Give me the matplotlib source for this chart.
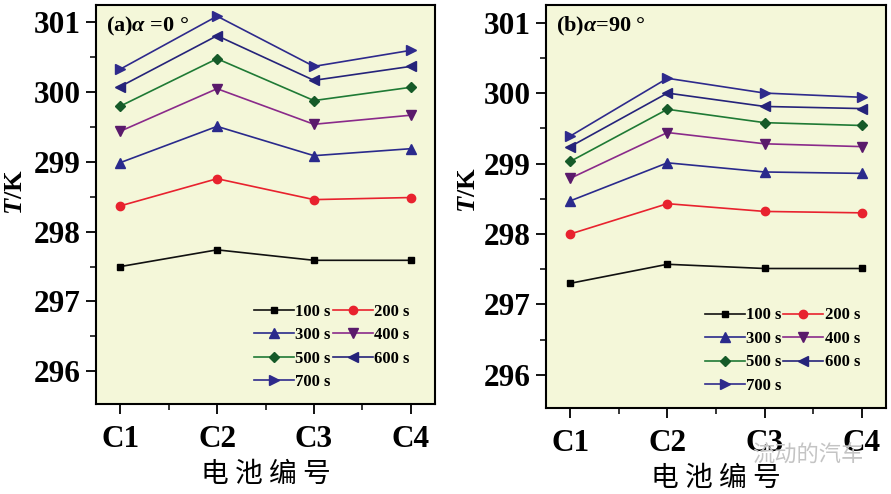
import matplotlib.pyplot as plt
from matplotlib.ticker import MultipleLocator

plt.rcParams['font.family'] = ['Liberation Serif', 'DejaVu Serif']
plt.rcParams['mathtext.fontset'] = 'custom'
plt.rcParams['mathtext.it'] = 'Liberation Serif:italic:bold'
plt.rcParams['mathtext.rm'] = 'Liberation Serif:bold'

# 电池编号
cells = ['C1', 'C2', 'C3', 'C4']
times = ['100 s', '200 s', '300 s', '400 s', '500 s', '600 s', '700 s']

# (a) alpha = 0
temp_a_100 = [297.50, 297.74, 297.59, 297.59]
temp_a_200 = [298.37, 298.76, 298.46, 298.49]
temp_a_300 = [298.99, 299.51, 299.09, 299.19]
temp_a_400 = [299.44, 300.05, 299.54, 299.67]
temp_a_500 = [299.80, 300.48, 299.88, 300.07]
temp_a_600 = [300.08, 300.81, 300.17, 300.37]
temp_a_700 = [300.33, 301.09, 300.37, 300.60]

# (b) alpha = 90
temp_b_100 = [297.30, 297.57, 297.51, 297.51]
temp_b_200 = [298.00, 298.43, 298.32, 298.30]
temp_b_300 = [298.47, 299.01, 298.88, 298.86]
temp_b_400 = [298.79, 299.44, 299.28, 299.24]
temp_b_500 = [299.03, 299.77, 299.58, 299.54]
temp_b_600 = [299.24, 300.00, 299.81, 299.78]
temp_b_700 = [299.39, 300.21, 300.00, 299.94]

series_a = [temp_a_100, temp_a_200, temp_a_300, temp_a_400, temp_a_500, temp_a_600, temp_a_700]
series_b = [temp_b_100, temp_b_200, temp_b_300, temp_b_400, temp_b_500, temp_b_600, temp_b_700]

line_colors = ['#111111', '#e8222e', '#2a2a8c', '#8a2a8a', '#1f7a35', '#25237a', '#2e2a8c']
marker_colors = ['#000000', '#e8222e', '#2a2a8c', '#5a1a6b', '#155a28', '#25237a', '#2e2a8c']
markers = ['s', 'o', '^', 'v', 'D', '<', '>']
msizes = [5, 6, 7, 7, 5.5, 7, 7]

bg = '#f4f7d9'

fig = plt.figure(figsize=(8.91, 4.94), dpi=100)
ax_a = fig.add_axes([96/891, 1 - 404/494, (435 - 96)/891, (404 - 5)/494])
ax_b = fig.add_axes([546/891, 1 - 408/494, (886 - 546)/891, (408 - 5)/494])

x = range(len(cells))
# legend filled row by row: 100 200 / 300 400 / 500 600 / 700
order = [0, 2, 4, 6, 1, 3, 5]

panels = [(ax_a, series_a, r'(a)$\alpha$ =0 °', -0.205, 0.53),
          (ax_b, series_b, r'(b)$\alpha$=90 °', -0.194, 0.54)]

for ax, series, tag, ylab_x, ylab_y in panels:
    ax.set_facecolor(bg)
    lines = []
    for i, s in enumerate(series):
        ln, = ax.plot(x, s, color=line_colors[i], lw=1.2, marker=markers[i], ms=msizes[i],
                      mfc=marker_colors[i], mec=marker_colors[i], label=times[i])
        lines.append(ln)
    ax.set_xlim(-0.25, 3.25)
    ax.set_ylim(295.53, 301.25)
    ax.set_xticks(list(x))
    ax.set_xticklabels(cells)
    ax.xaxis.set_minor_locator(MultipleLocator(0.5))
    ax.yaxis.set_major_locator(MultipleLocator(1))
    ax.yaxis.set_minor_locator(MultipleLocator(0.5))
    ax.tick_params(axis='both', which='major', direction='out', length=7, width=1.3,
                   labelsize=22.5, top=False, right=False)
    ax.tick_params(axis='x', which='major', pad=8)
    ax.tick_params(axis='y', which='major', pad=4)
    ax.tick_params(axis='both', which='minor', direction='out', length=4, width=1.1,
                   top=False, right=False)
    for lab in ax.get_xticklabels() + ax.get_yticklabels():
        lab.set_fontweight('bold')
    for sp in ax.spines.values():
        sp.set_linewidth(1.5)
    ax.set_ylabel(r'$T$/K', fontsize=19, fontweight='bold')
    ax.yaxis.set_label_coords(ylab_x, ylab_y)
    ax.set_xlabel('电 池 编 号', fontsize=20, family=['Noto Sans CJK SC'], labelpad=4)
    ax.text(0.03, 0.975, tag, transform=ax.transAxes, fontsize=16, fontweight='bold',
            va='top', ha='left')
    ax.legend([lines[k] for k in order], [times[k] for k in order], ncol=2,
              loc='lower right', bbox_to_anchor=(0.925, 0.035), frameon=False,
              prop={'weight': 'bold', 'size': 12}, handlelength=2.4, handletextpad=0.1,
              columnspacing=0.1, labelspacing=0.45, borderpad=0, borderaxespad=0)

fig.text(808/891, 1 - 455/494, '流动的汽车', fontsize=16, color='#c4c4c4',
         family=['Noto Sans CJK SC'], ha='center', va='center')

fig.savefig('out.png', dpi=100)
